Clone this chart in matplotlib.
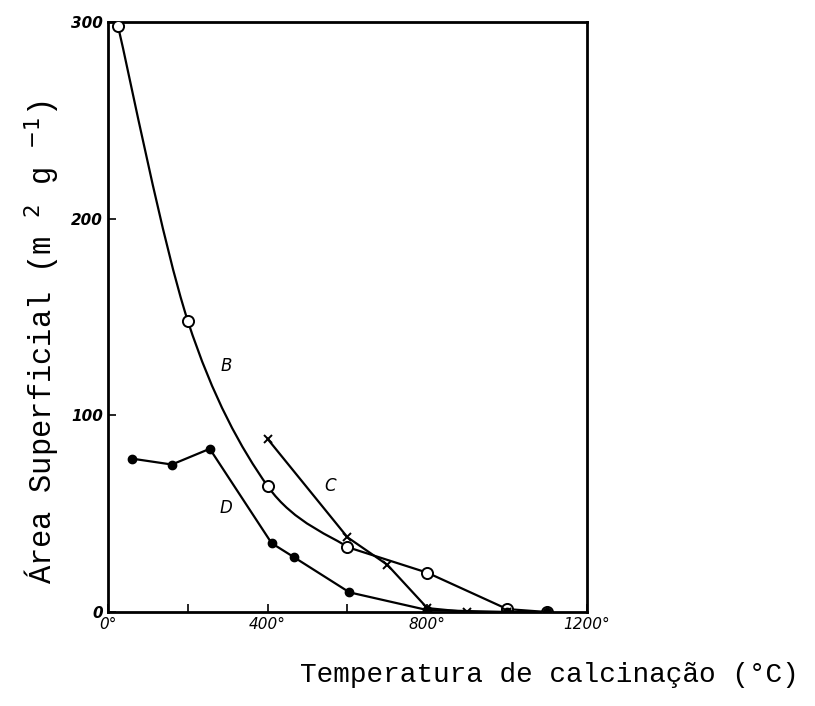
import numpy as np
import matplotlib
matplotlib.use("Agg")
import matplotlib.pyplot as plt
from matplotlib.path import Path
from matplotlib.patches import PathPatch

# Curve B (open circles)
b_x = [25, 200, 400, 600, 800, 1000, 1100]
b_y = [298, 148, 64, 33, 20, 1.5, 0]
# Curve C (crosses)
c_x = [400, 600, 700, 800, 900, 1000]
c_y = [88, 38, 24, 2, 0, 0]
# Curve D (filled circles)
d_x = [60, 160, 255, 410, 465, 605, 800, 1000, 1100]
d_y = [78, 75, 83, 35, 28, 10, 1, 0, 0]

x_ticks = [0, 400, 800, 1200]
x_ticklabels = ["0°", "400°", "800°", "1200°"]
y_ticks = [0, 100, 200, 300]
y_ticklabels = ["0", "100", "200", "300"]


def smooth_path(xs, ys, n_smooth):
    """Catmull-Rom style Bezier through the first n_smooth points, straight after."""
    pts = np.column_stack([xs, ys]).astype(float)
    verts = [pts[0]]
    codes = [Path.MOVETO]
    n = len(pts)
    for i in range(n - 1):
        p1 = pts[i]
        p2 = pts[i + 1]
        if i + 1 < n_smooth:
            p0 = pts[i - 1] if i > 0 else pts[i]
            p3 = pts[i + 2] if i + 2 < n_smooth else pts[i + 1] + (pts[i + 1] - pts[i]) * 0.0
            c1 = p1 + (p2 - p0) / 6.0
            c2 = p2 - (p3 - p1) / 6.0
            verts += [c1, c2, p2]
            codes += [Path.CURVE4] * 3
        else:
            verts.append(p2)
            codes.append(Path.LINETO)
    return Path(verts, codes)


fig = plt.figure(figsize=(8.15, 7.06), dpi=100)
ax = fig.add_axes([0.1325, 0.1331, 0.5877, 0.8357])
ax.set_xlim(0, 1200)
ax.set_ylim(0, 300)

# B: smooth curve
ax.add_patch(PathPatch(smooth_path(b_x, b_y, 4), fill=False, lw=1.6, color="black", zorder=2))
ax.plot(b_x, b_y, ls="none", marker="o", ms=8, mfc="white", mec="black", mew=1.4, zorder=3)
# C
ax.plot(c_x, c_y, color="black", lw=1.6, marker="x", ms=6, mew=1.4, zorder=3)
# D
ax.plot(d_x, d_y, color="black", lw=1.6, marker="o", ms=6, mfc="black", mec="black", zorder=3)

ax.text(295, 125, "B", fontsize=12, style="italic", ha="center", va="center")
ax.text(557, 64, "C", fontsize=12, style="italic", ha="center", va="center")
ax.text(295, 53, "D", fontsize=12, style="italic", ha="center", va="center")

ax.set_xticks(x_ticks)
ax.set_xticklabels(x_ticklabels, style="italic", fontsize=11)
ax.set_xticks([200, 600, 1000], minor=True)
ax.set_yticks(y_ticks)
ax.set_yticklabels(y_ticklabels, style="italic", fontsize=11, fontweight="bold")
ax.tick_params(which="both", direction="in", length=6, width=1.2)
for s in ax.spines.values():
    s.set_linewidth(2)

fig.text(0.052, 0.515, "Área Superficial (m $^{2}$ g $^{-1}$)", rotation=90,
         ha="center", va="center", fontsize=22, family="Liberation Mono",
         math_fontfamily="dejavusans")
fig.text(0.674, 0.025, "Temperatura de calcinação (°C)", ha="center", va="bottom",
         fontsize=20, family="Liberation Mono")

fig.savefig("out.png", dpi=100)
